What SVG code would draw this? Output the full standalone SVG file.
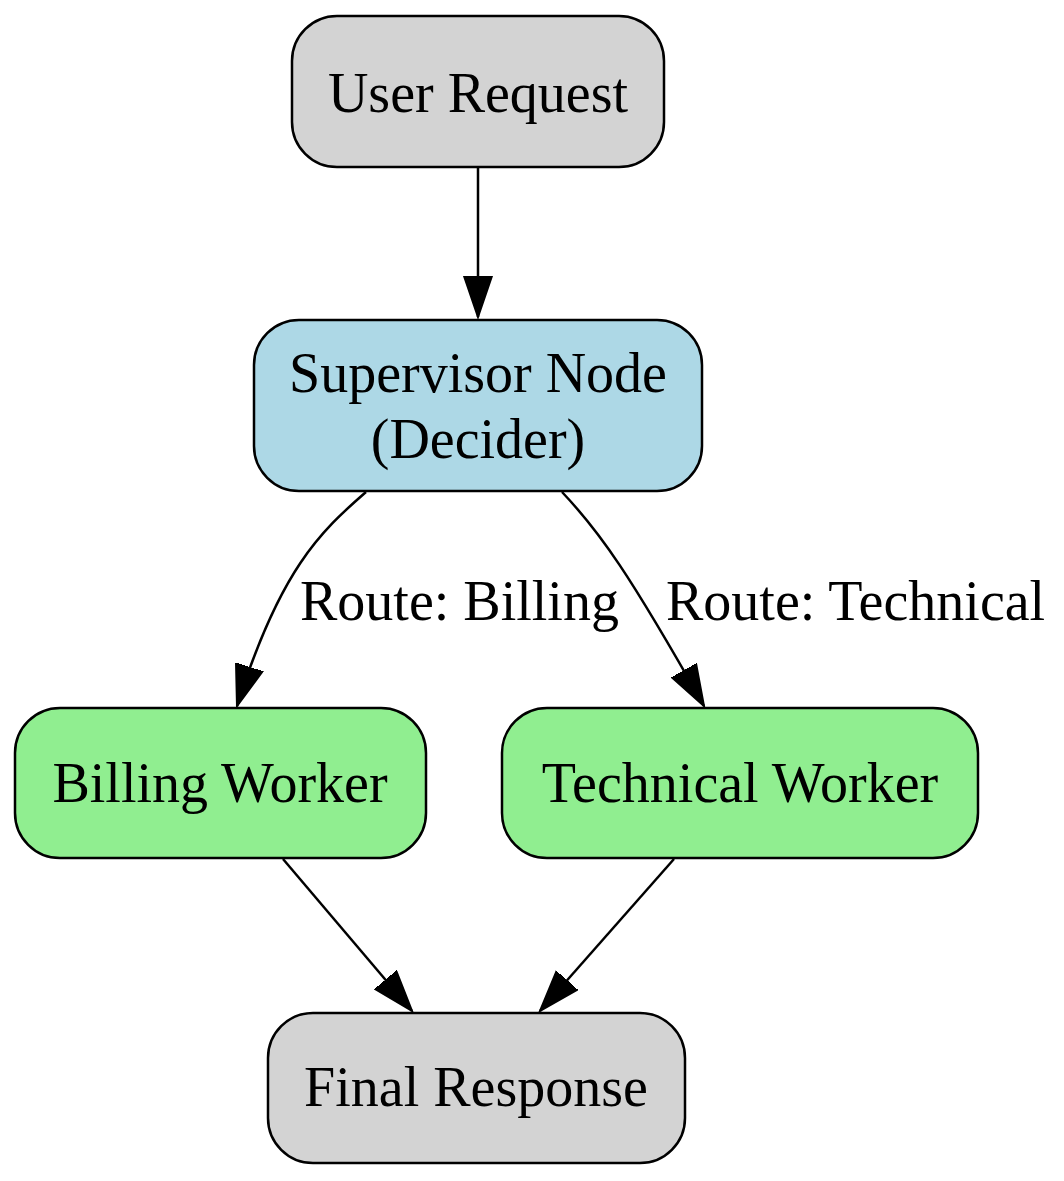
<svg xmlns="http://www.w3.org/2000/svg" width="1064" height="1181" viewBox="0 0 1064 1181">
<style>
.n{stroke:#000;stroke-width:2.5}
text{font-family:"Liberation Serif","Times New Roman",serif;font-size:56px;fill:#000;text-anchor:middle}
.e{fill:none;stroke:#000;stroke-width:2.5}
</style>
<defs>
<marker id="a" markerUnits="userSpaceOnUse" markerWidth="44" markerHeight="32" refX="41" refY="15" orient="auto">
<path d="M0,1 L41,15 L0,29 Z" fill="#000" stroke="#000" stroke-width="2"/>
</marker>
</defs>
<g id="connectors">
<path class="e" d="M478,167 L478,317" marker-end="url(#a)"/>
<path class="e" d="M366,492 C320,532 280,570 237,706" marker-end="url(#a)"/>
<path class="e" d="M562,492 C600,532 630,575 704,706" marker-end="url(#a)"/>
<path class="e" d="M283,859 L412,1011" marker-end="url(#a)"/>
<path class="e" d="M674,859 L540,1011" marker-end="url(#a)"/>
<text x="300" y="620" style="text-anchor:start">Route: Billing</text>
<text x="666" y="620" style="text-anchor:start">Route: Technical</text>
</g>
<g id="user_request"><rect class="n" x="292" y="16" width="372" height="151" rx="45" fill="#d3d3d3"/><text x="478" y="112">User Request</text></g>
<g id="supervisor"><rect class="n" x="254" y="320" width="448" height="171" rx="45" fill="#add8e6"/><text x="478" y="392">Supervisor Node</text><text x="478" y="458">(Decider)</text></g>
<g id="billing"><rect class="n" x="15" y="708" width="411" height="150" rx="45" fill="#90ee90"/><text x="220" y="802">Billing Worker</text></g>
<g id="technical"><rect class="n" x="502" y="708" width="476" height="150" rx="45" fill="#90ee90"/><text x="740" y="802">Technical Worker</text></g>
<g id="final"><rect class="n" x="268" y="1013" width="417" height="150" rx="45" fill="#d3d3d3"/><text x="476" y="1106">Final Response</text></g>
</svg>
